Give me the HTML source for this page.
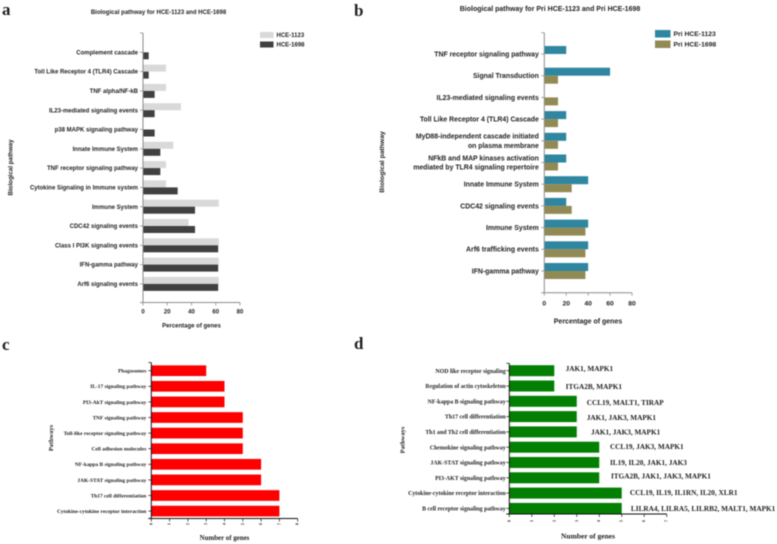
<!DOCTYPE html>
<html>
<head>
<meta charset="utf-8">
<title>Biological pathway charts</title>
<style>
html,body{margin:0;padding:0;background:#fff;width:777px;height:544px;overflow:hidden}
svg{display:block;filter:blur(0.4px)}
.sans{font-family:"Liberation Sans",sans-serif;font-weight:bold;fill:#222}
.serif{font-family:"Liberation Serif",serif;font-weight:bold;fill:#222}
</style>
</head>
<body>
<svg id="fig" xmlns="http://www.w3.org/2000/svg" width="777" height="544" viewBox="0 0 777 544"></svg>
<script>
// Panel a
const aCategories = ["Complement cascade","Toll Like Receptor 4 (TLR4) Cascade","TNF alpha/NF-kB","IL23-mediated signaling events","p38 MAPK signaling pathway","Innate Immune System","TNF receptor signaling pathway","Cytokine Signaling in Immune system","Immune System","CDC42 signaling events","Class I PI3K signaling events","IFN-gamma pathway","Arf6 signaling events"];
const aHce1123 = [0,19,19,31.3,0,25,19,19,62.5,37.5,62.5,62.5,62.5];
const aHce1698 = [4.7,4.7,9.6,9.6,9.6,14.3,14.3,28.6,42.9,42.9,62,62,62];
const aTicks = [0,20,40,60,80];
// Panel b
const bCategories = ["TNF receptor signaling pathway","Signal Transduction","IL23-mediated signaling events","Toll Like Receptor 4 (TLR4) Cascade","MyD88-independent cascade initiated|on plasma membrane","NFkB and MAP kinases activation|mediated by TLR4 signaling repertoire","Innate Immune System","CDC42 signaling events","Immune System","Arf6 trafficking events","IFN-gamma pathway"];
const bPri1123 = [20,60,0,20,20,20,40,20,40,40,40];
const bPri1698 = [0,12.5,12.5,12.5,12.5,12.5,25,25,37.5,37.5,37.5];
const bTicks = [0,20,40,60,80];
// Panel c
const cCategories = ["Phagosomes","IL-17 signaling pathway","PI3-AkT signaling pathway","TNF signaling pathway","Toll-like receptor signaling pathway","Cell adhesion molecules","NF-kappa B signaling pathway","JAK-STAT signaling pathway","Th17 cell differentiation","Cytokine-cytokine receptor interaction"];
const cValues = [3,4,4,5,5,5,6,6,7,7];
const cTicks = [0,1,2,3,4,5,6,7,8];
// Panel d
const dCategories = ["NOD like receptor signaling","Regulation of actin cytoskeleton","NF-kappa B signaling pathway","Th17 cell differentiation","Th1 and Th2 cell differentiation","Chemokine signaling pathway","JAK-STAT signaling pathway","PI3-AKT signaling pathway","Cytokine-cytokine receptor interaction","B cell receptor signaling pathway"];
const dValues = [2,2,3,3,3,4,4,4,5,5];
const dGenes = ["JAK1, MAPK1","ITGA2B, MAPK1","CCL19, MALT1, TIRAP","JAK1, JAK3, MAPK1","JAK1, JAK3, MAPK1","CCL19, JAK3, MAPK1","IL19, IL20, JAK1, JAK3","ITGA2B, JAK1, JAK3, MAPK1","CCL19, IL19, IL1RN, IL20, XLR1","LILRA4, LILRA5, LILRB2, MALT1, MAPK1"];
const dTicks = [0,1,2,3,4,5,6,7];

const NS = "http://www.w3.org/2000/svg";
const fig = document.getElementById("fig");
function mk(tag, attrs, parent, txt){
  const e = document.createElementNS(NS, tag);
  for (const k in attrs) e.setAttribute(k, attrs[k]);
  if (txt !== undefined) e.textContent = txt;
  (parent || fig).appendChild(e);
  return e;
}
function label(parent, cls, size, x, y, txt, anchor, name, rot){
  const attrs = {class:cls,"font-size":size,x:x,y:y,"text-anchor":anchor||"start"};
  if (rot) attrs.transform = "rotate("+rot+" "+x+" "+y+")";
  const t = mk("text", attrs, parent, txt);
  
  
  return t;
}
function drawPanel(o){
  const g = mk("g", {}, fig);
  
  
  const xScale = v => o.x0 + (v - o.ticks[0]) / (o.ticks[o.ticks.length-1] - o.ticks[0]) * (o.x1 - o.x0);
  const yScale = i => o.yFirst + i * o.yStep;
  // bars
  o.categories.forEach((cat, i) => {
    const cy = yScale(i);
    o.series.forEach((s, j) => {
      const v = s.values[i];
      if (!v) return;
      const top = o.series.length === 1 ? cy - o.barH/2 : cy - o.barH + j*o.barH;
      const r = mk("rect", {x:xScale(0),y:top,width:xScale(v)-xScale(0),height:o.barH,fill:s.color}, g);
      
      
    });
    const lines = cat.split("|");
    lines.forEach((ln, k) => {
      const yy = cy + o.labelSize*0.35 + (k - (lines.length-1)/2) * o.labelSize*1.35;
      label(g, o.cls, o.labelSize, o.x0 - o.labelGap, yy, ln, "end", "category-label");
    });
    const tk = mk("line", {x1:o.x0-3,x2:o.x0,y1:cy,y2:cy,stroke:o.axisColor,"stroke-width":o.tickW}, g);
    
    
  });
  // axes
  const ya = mk("line", {x1:o.x0,x2:o.x0,y1:o.yTop,y2:o.yBottom,stroke:o.axisColor,"stroke-width":o.axisW}, g);
  
  
  const xa = mk("line", {x1:o.x0-3,x2:o.x1,y1:o.yBottom,y2:o.yBottom,stroke:o.axisColor,"stroke-width":o.axisW}, g);
  
  
  const cap = mk("line", {x1:o.x0-3,x2:o.x0,y1:o.yTop,y2:o.yTop,stroke:o.axisColor,"stroke-width":o.tickW}, g);
  
  
  o.ticks.forEach(t => {
    const px = xScale(t);
    const tk = mk("line", {x1:px,x2:px,y1:o.yBottom,y2:o.yBottom+3,stroke:o.axisColor,"stroke-width":o.tickW}, g);
    
    
    label(g, o.cls, o.tickSize, px + (o.tickRot ? 1 : 0), o.tickY, String(t), "middle", "x-tick-label", o.tickRot);
  });
  label(g, o.cls, o.xTitleSize, o.xTitleX, o.xTitleY, o.xTitle, "middle", "x-axis-title");
  label(g, o.cls, o.yTitleSize, o.yTitleX, o.yTitleY, o.yTitle, "middle", "y-axis-title", -90);
  return {g, xScale, yScale};
}
drawPanel({name:"panel-a-chart",cls:"sans",x0:143,x1:240,ticks:aTicks,yFirst:52.3,yStep:19.3,yTop:33,yBottom:302.5,barH:7,
  categories:aCategories,series:[{values:aHce1123,color:"#d9d9d9"},{values:aHce1698,color:"#404040"}],
  axisColor:"#8c8c8c",axisW:1,tickW:0.8,labelSize:6,labelGap:5,tickSize:6,tickY:313.5,
  xTitle:"Percentage of genes",xTitleX:191.5,xTitleY:327.5,xTitleSize:6,yTitle:"Biological pathway",yTitleX:12.5,yTitleY:167.5,yTitleSize:6.2});
drawPanel({name:"panel-b-chart",cls:"sans",x0:544.3,x1:632,ticks:bTicks,yFirst:54,yStep:21.7,yTop:32.7,yBottom:292.7,barH:8,
  categories:bCategories,series:[{values:bPri1123,color:"#2e86a0"},{values:bPri1698,color:"#928a54"}],
  axisColor:"#8c8c8c",axisW:1,tickW:0.8,labelSize:6.9,labelGap:5.5,tickSize:6.8,tickY:305.5,
  xTitle:"Percentage of genes",xTitleX:588,xTitleY:323.5,xTitleSize:7,yTitle:"Biological pathway",yTitleX:384,yTitleY:162,yTitleSize:6.8});
drawPanel({name:"panel-c-chart",cls:"serif",x0:151.3,x1:297.7,ticks:cTicks,yFirst:370.7,yStep:15.6,yTop:362.5,yBottom:518.5,barH:10.7,
  categories:cCategories,series:[{values:cValues,color:"#fe0000"}],
  axisColor:"#111",axisW:1,tickW:0.7,labelSize:5.4,labelGap:5,tickSize:4,tickY:524,tickRot:-90,
  xTitle:"Number of genes",xTitleX:224.5,xTitleY:540,xTitleSize:6.9,yTitle:"Pathways",yTitleX:53,yTitleY:438,yTitleSize:6.4});
const pd = drawPanel({name:"panel-d-chart",cls:"serif",x0:509.3,x1:666.7,ticks:dTicks,yFirst:370.7,yStep:15.3,yTop:363.3,yBottom:514,barH:11,
  categories:dCategories,series:[{values:dValues,color:"#037f03"}],
  axisColor:"#111",axisW:1,tickW:0.7,labelSize:5.9,labelGap:3.6,tickSize:4,tickY:521,tickRot:-90,
  xTitle:"Number of genes",xTitleX:588,xTitleY:538.5,xTitleSize:7.5,yTitle:"Pathways",yTitleX:404.5,yTitleY:440,yTitleSize:6.5});
const geneDx = [1.4,1.4,0,0,4.2,0.7,0.7,1.7,-1.8,-0.8];
const geneDy = [-2,0.7,1.4,1.1,0.4,-0.5,0.2,-1.5,-0.4,0.3];
dGenes.forEach((g, i) => {
  const t = label(pd.g, "serif", 7.25, pd.xScale(dValues[i]) + 10 + geneDx[i], pd.yScale(i) + geneDy[i] + 2.4, g, "start", "gene-annotation");
});

// Titles and panel letters
label(fig, "sans", 6, 158.5, 14, "Biological pathway for HCE-1123 and HCE-1698", "middle", "panel-a-title");
label(fig, "sans", 7, 550, 11, "Biological pathway for Pri HCE-1123 and Pri HCE-1698", "middle", "panel-b-title");
label(fig, "serif", 17, 2, 15, "a", "start", "panel-a-letter");
label(fig, "serif", 17, 354, 16, "b", "start", "panel-b-letter");
label(fig, "serif", 17, 2, 350, "c", "start", "panel-c-letter");
label(fig, "serif", 17, 354, 349, "d", "start", "panel-d-letter");

// Legends
function legendEntry(x, y, w, h, color, txt, size, tx){
  const g = mk("g", {}, fig);
  
  
  const r = mk("rect", {x:x,y:y,width:w,height:h,fill:color}, g);
  
  
  label(g, "sans", size, tx, y + h/2 + size*0.35, txt, "start", "legend-label");
}
legendEntry(260, 32, 13.5, 6, "#d9d9d9", "HCE-1123", 6, 276.5);
legendEntry(260, 41.5, 13.5, 6, "#404040", "HCE-1698", 6, 276.5);
legendEntry(655, 30, 15.5, 7.5, "#2e86a0", "Pri HCE-1123", 6.8, 673.5);
legendEntry(655, 40.5, 15.5, 7.5, "#928a54", "Pri HCE-1698", 6.8, 673.5);
</script>
</body>
</html>
